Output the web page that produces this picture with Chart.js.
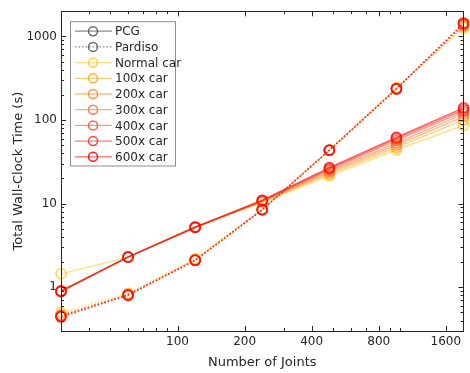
<!DOCTYPE html>
<html>
<head>
<meta charset="utf-8">
<script src="https://cdn.jsdelivr.net/npm/chart.js@4.4.1/dist/chart.umd.min.js"></script>
<style>
  body { margin: 0; background: #fff; }
  canvas { display: block; }
</style>
</head>
<body>
<canvas id="timeChart" width="470" height="373"></canvas>
<script>
// Tiempo total vs. numero de articulaciones (log-log)
const joints = [30, 60, 120, 240, 480, 960, 1920];
const xTickValues = [100, 200, 400, 800, 1600];
const yTickValues = [1, 10, 100, 1000];

const carLabels = ["Normal car", "100x car", "200x car", "300x car", "400x car", "500x car", "600x car"];

// PCG (linea continua)
const pcgNormal = [1.45, 2.3, 5.3, 10.3, 21.5, 44, 86];
const pcg100 = [0.92, 2.3, 5.25, 10.5, 22.5, 47, 100];
const pcg200 = [0.91, 2.3, 5.2, 10.6, 23.5, 50, 110];
const pcg300 = [0.9, 2.3, 5.2, 10.7, 24.5, 53, 118];
const pcg400 = [0.9, 2.3, 5.2, 10.8, 25.5, 57, 126];
const pcg500 = [0.89, 2.3, 5.2, 10.9, 26.2, 60, 133];
const pcg600 = [0.89, 2.3, 5.25, 11, 27, 62, 140];

// Pardiso (linea punteada)
const parNormal = [0.5, 0.85, 2.2, 8.6, 44, 245, 1250];
const par100 = [0.47, 0.83, 2.15, 8.5, 43.5, 240, 1300];
const par200 = [0.46, 0.82, 2.12, 8.5, 43.5, 238, 1340];
const par300 = [0.46, 0.82, 2.1, 8.5, 43.5, 237, 1370];
const par400 = [0.45, 0.81, 2.1, 8.5, 43.5, 236, 1400];
const par500 = [0.45, 0.81, 2.1, 8.5, 43.5, 236, 1420];
const par600 = [0.44, 0.8, 2.1, 8.4, 43.5, 235, 1450];

const pcgSeries = [pcgNormal, pcg100, pcg200, pcg300, pcg400, pcg500, pcg600];
const parSeries = [parNormal, par100, par200, par300, par400, par500, par600];

const carRGB = [
  [255, 200, 40], [255, 170, 30], [255, 140, 45], [255, 115, 55],
  [255, 80, 50], [255, 45, 35], [255, 0, 0]
];
const rgba = (c, a) => `rgba(${c[0]},${c[1]},${c[2]},${a})`;
const FONT = "'DejaVu Sans', Verdana, sans-serif";
const AXIS = "#262626";

const toPoints = arr => joints.map((x, i) => ({ x: x, y: arr[i] }));

function lineSet(label, arr, c, dashed, inLegend, order) {
  return {
    label: label,
    data: toPoints(arr),
    order: order,
    borderColor: rgba(c, 0.6),
    borderWidth: 1.3,
    borderDash: dashed ? [1.5, 2] : [],
    pointStyle: "circle",
    pointRadius: 5,
    pointBorderWidth: 1.5,
    pointBorderColor: rgba(c, 0.8),
    pointBackgroundColor: "rgba(0,0,0,0)",
    fill: false,
    tension: 0,
    clip: false,
    inLegend: inLegend,
    dashed: dashed,
    markerColor: rgba(c, 0.9)
  };
}

const datasets = [
  { label: "PCG", data: [], order: 0, borderColor: "rgba(110,110,110,0.8)", inLegend: true, dashed: false, markerColor: "rgba(90,90,90,0.9)" },
  { label: "Pardiso", data: [], order: 0, borderColor: "rgba(110,110,110,0.8)", inLegend: true, dashed: true, markerColor: "rgba(90,90,90,0.9)" }
];
// las series posteriores (mas rojas) se dibujan encima
carLabels.forEach((lab, i) => {
  datasets.push(lineSet(lab + " (Pardiso)", parSeries[i], carRGB[i], true, false, 40 - 2 * i));
  datasets.push(lineSet(lab, pcgSeries[i], carRGB[i], false, true, 39 - 2 * i));
});

// Marco de ejes con marcas hacia adentro (estilo MATLAB)
function logMarks(min, max) {
  const out = [];
  for (let d = 0.01; d <= 10000; d *= 10) {
    for (let k = 1; k <= 9; k++) {
      const v = Math.round(k * d * 1000) / 1000;
      if (v >= min && v <= max) out.push(v);
    }
  }
  return out;
}

const axesBox = {
  id: "axesBox",
  afterDatasetsDraw(chart) {
    const { ctx, chartArea: a, scales } = chart;
    const xs = scales.x, ys = scales.y;
    ctx.save();
    ctx.strokeStyle = AXIS;
    ctx.lineWidth = 1;
    ctx.strokeRect(Math.round(a.left) + 0.5, Math.round(a.top) + 0.5,
      Math.round(a.right - a.left) - 1, Math.round(a.bottom - a.top));
    ctx.beginPath();
    logMarks(xs.min, xs.max).concat(xTickValues).forEach(v => {
      const len = xTickValues.includes(v) ? 5 : 3;
      const px = Math.round(xs.getPixelForValue(v)) + 0.5;
      ctx.moveTo(px, a.bottom); ctx.lineTo(px, a.bottom - len);
      ctx.moveTo(px, a.top); ctx.lineTo(px, a.top + len);
    });
    logMarks(ys.min, ys.max).forEach(v => {
      const len = yTickValues.includes(v) ? 5 : 3;
      const py = Math.round(ys.getPixelForValue(v)) + 0.5;
      ctx.moveTo(a.left, py); ctx.lineTo(a.left + len, py);
      ctx.moveTo(a.right, py); ctx.lineTo(a.right - len, py);
    });
    ctx.stroke();
    ctx.restore();
  }
};

// Leyenda dentro del area del grafico
const insideLegend = {
  id: "insideLegend",
  afterDraw(chart) {
    const { ctx, chartArea: a } = chart;
    const items = chart.data.datasets.filter(d => d.inLegend);
    const bx = a.left + 9, by = a.top + 10, bw = 105, rowH = 15.7;
    const bh = items.length * rowH + 3;
    ctx.save();
    ctx.fillStyle = "#fff";
    ctx.fillRect(bx, by, bw, bh);
    ctx.strokeStyle = "#8c8c8c";
    ctx.lineWidth = 1;
    ctx.strokeRect(bx + 0.5, by + 0.5, bw, bh);
    ctx.font = "12px " + FONT;
    ctx.textBaseline = "middle";
    items.forEach((d, i) => {
      const y = by + 10 + i * rowH;
      ctx.strokeStyle = d.borderColor;
      ctx.lineWidth = 1.3;
      ctx.setLineDash(d.dashed ? [1.5, 2] : []);
      ctx.beginPath();
      ctx.moveTo(bx + 5, y); ctx.lineTo(bx + 42, y);
      ctx.stroke();
      ctx.setLineDash([]);
      ctx.strokeStyle = d.markerColor;
      ctx.lineWidth = 1.5;
      ctx.beginPath();
      ctx.arc(bx + 23, y, 4.5, 0, Math.PI * 2);
      ctx.stroke();
      ctx.fillStyle = AXIS;
      ctx.fillText(d.label, bx + 45, y + 1);
    });
    ctx.restore();
  }
};

new Chart(document.getElementById("timeChart"), {
  type: "line",
  data: { datasets: datasets },
  options: {
    responsive: false,
    animation: false,
    layout: { padding: { top: 8, right: 2, left: 0, bottom: 0 } },
    plugins: { legend: { display: false }, tooltip: { enabled: false } },
    scales: {
      x: {
        type: "logarithmic",
        min: 30,
        max: 1920,
        grid: { display: false, drawTicks: false },
        border: { display: false },
        afterBuildTicks: s => { s.ticks = xTickValues.map(v => ({ value: v })); },
        afterFit: s => { s.height = 42; },
        ticks: {
          autoSkip: false, maxRotation: 0, padding: 4, color: AXIS,
          font: { family: FONT, size: 12 },
          callback: v => String(v)
        },
        title: {
          display: true, text: "Number of Joints", color: AXIS,
          font: { family: FONT, size: 13 }, padding: { top: 0, bottom: 3 }
        }
      },
      y: {
        type: "logarithmic",
        min: 0.3,
        max: 2000,
        grid: { display: false, drawTicks: false },
        border: { display: false },
        afterBuildTicks: s => { s.ticks = yTickValues.map(v => ({ value: v })); },
        afterFit: s => { s.width = 61; },
        ticks: {
          autoSkip: false, padding: 4, color: AXIS,
          font: { family: FONT, size: 12 },
          callback: v => String(v)
        },
        title: {
          display: true, text: "Total Wall-Clock Time (s)", color: AXIS,
          font: { family: FONT, size: 13 }, padding: { top: 11, bottom: 0 }
        }
      }
    }
  },
  plugins: [axesBox, insideLegend]
});
</script>
</body>
</html>
